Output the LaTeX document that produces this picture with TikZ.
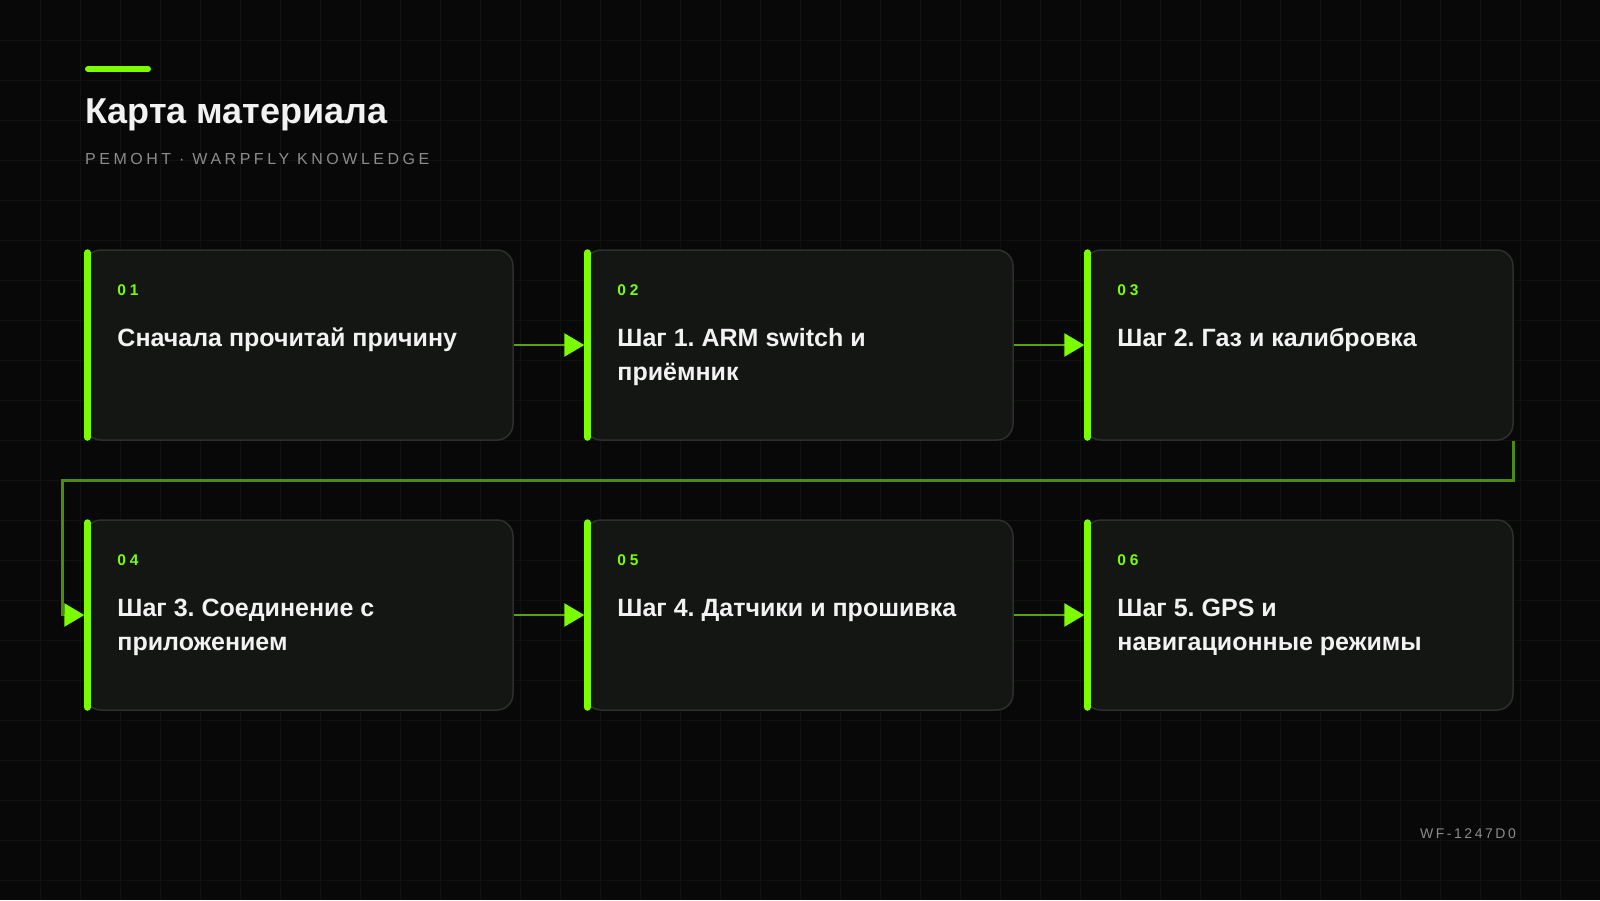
\documentclass[tikz,border=0pt]{standalone}
\usepackage{fontspec}
\setmainfont{Liberation Sans}
\newfontfamily\subfont[LetterSpace=22]{Liberation Sans}
\newfontfamily\footfont[LetterSpace=18]{Liberation Sans}
\newfontfamily\numfont[LetterSpace=25]{Liberation Sans}
\usetikzlibrary{arrows.meta}
\frenchspacing
\definecolor{bgc}{HTML}{070807}
\definecolor{gridc}{HTML}{0F120F}
\definecolor{cardfill}{HTML}{141614}
\definecolor{cardline}{HTML}{2C2F2C}
\definecolor{accent}{HTML}{7CFC00}
\definecolor{arrowc}{HTML}{5BA30A}
\definecolor{loopc}{HTML}{4C8A12}
\definecolor{titlec}{HTML}{F2F2F2}
\definecolor{subc}{HTML}{8C8C8C}
\tikzset{
  card/.style={draw=cardline, line width=1.5pt, fill=cardfill, rounded corners=16pt,
    minimum width=428pt, minimum height=190pt, inner sep=0pt},
  accentbar/.style={draw=accent, line width=7pt, line cap=round},
  numtext/.style={anchor=base west, inner sep=0pt, text=accent, font=\numfont\bfseries\fontsize{15.5}{18}\selectfont},
  cardtitle/.style={anchor=north west, inner sep=0pt, text=titlec, align=left,
    font=\bfseries\fontsize{25}{34}\selectfont},
  flow/.style={draw=arrowc, line width=2.7pt, -{Triangle[length=20pt,width=23pt,color=accent]}},
  loopflow/.style={draw=loopc, line width=2.7pt, -{Triangle[length=20pt,width=23pt,color=accent]}},
}
\newcommand\mkcard[5]{%
  \node[card] (#1) at (#2,#3) {};
  \draw[accentbar] ([xshift=3pt,yshift=-3.5pt]#1.north west) -- ([xshift=3pt,yshift=3.5pt]#1.south west);
  \node[numtext] (#1n) at ([xshift=33pt,yshift=50pt]#1.west) {#4};
  \node[cardtitle] (#1t) at ([xshift=33pt,yshift=19pt]#1.west) {\rule{0pt}{20pt}#5};
}
\begin{document}
\begin{tikzpicture}[x=1pt,y=-1pt]
\useasboundingbox (0,0) rectangle (1600,900);
\fill[bgc] (0,0) rectangle (1600,900);
\foreach \i in {40,80,...,1560} \draw[gridc, line width=0.8pt] (\i,0) -- (\i,900);
\foreach \j in {40,80,...,880} \draw[gridc, line width=0.8pt] (0,\j) -- (1600,\j);
% header
\draw[accentbar, line width=6pt] (88,69) -- (148,69);
\node[anchor=base west, inner sep=0pt, text=titlec, font=\bfseries\fontsize{36}{40}\selectfont] (title) at (85,123) {Карта материала};
\node[anchor=base west, inner sep=0pt, text=subc, font=\subfont\fontsize{16}{20}\selectfont] (subtitle) at (85,164.5) {РЕМОНТ · WARPFLY KNOWLEDGE};
\node[anchor=base east, inner sep=0pt, text=subc, font=\footfont\fontsize{14}{18}\selectfont] (footer) at (1516,838) {WF-1247D0};
% cards
\mkcard{b1}{299}{345}{01}{Сначала прочитай причину}
\mkcard{b2}{799}{345}{02}{Шаг 1. ARM switch и\\приёмник}
\mkcard{b3}{1299}{345}{03}{Шаг 2. Газ и калибровка}
\mkcard{b4}{299}{615}{04}{Шаг 3. Соединение с\\приложением}
\mkcard{b5}{799}{615}{05}{Шаг 4. Датчики и прошивка}
\mkcard{b6}{1299}{615}{06}{Шаг 5. GPS и\\навигационные режимы}
% connectors
\draw[flow] (b1.east) -- (b2.west);
\draw[flow] (b2.east) -- (b3.west);
\draw[flow] (b4.east) -- (b5.west);
\draw[flow] (b5.east) -- (b6.west);
\draw[loopflow] (b3.south east) -- ++(0,40) -| ([xshift=-22pt]b4.west) -- (b4.west);
\end{tikzpicture}
\end{document}
